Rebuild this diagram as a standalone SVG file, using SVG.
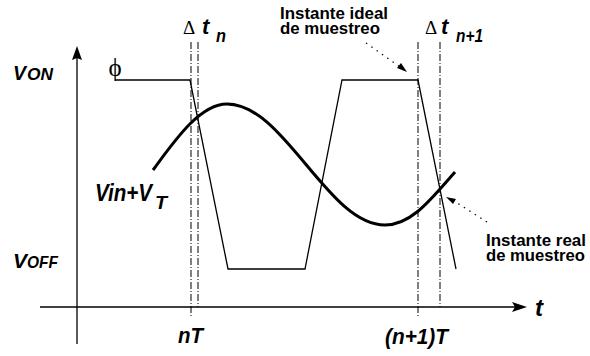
<svg xmlns="http://www.w3.org/2000/svg" width="590" height="356" viewBox="0 0 590 356">
<style>
.ax{stroke:#000;stroke-width:1.3;fill:none}
.clk{stroke:#000;stroke-width:1.3;fill:none}
.sig{stroke:#000;stroke-width:3;fill:none}
.dd{stroke:#000;stroke-width:1;fill:none;stroke-dasharray:7 2 1 2}
.dot{stroke:#000;stroke-width:1.2;fill:none;stroke-dasharray:1.5 5}
.lb{font-family:"Liberation Sans",Arial,sans-serif;font-weight:bold;font-style:italic;fill:#000}
.nt{font-family:"Liberation Sans",Arial,sans-serif;font-weight:bold;fill:#000;font-size:17px}
.sym{font-family:"Liberation Serif","DejaVu Serif",serif;fill:#000}
</style>
<g id="axes">
<line class="ax" x1="77" y1="56" x2="77" y2="344"/>
<path d="M77,46 L82,60 L77,58 L72,60 Z" fill="#000"/>
<line class="ax" x1="40" y1="307" x2="516" y2="307"/>
<path d="M527,307 L512,302 L515,307 L512,312 Z" fill="#000"/>
<text class="lb" x="535" y="316" font-size="24">t</text>
</g>
<g id="guides">
<line class="dd" x1="191" y1="42" x2="191" y2="317"/>
<line class="dd" x1="198" y1="42" x2="198" y2="307"/>
<line class="dd" x1="418" y1="42" x2="418" y2="317"/>
<line class="dd" x1="440" y1="42" x2="440" y2="307"/>
</g>
<g id="clock">
<polyline class="clk" points="115,80 190,80 228,269 305,269 342,80 418,80 456,269"/>
<text class="sym" x="115" y="76" font-size="25" text-anchor="middle">ϕ</text>
</g>
<g id="signal">
<path class="sig" d="M153,170 C175,140 200,104 227,104 C255.6,104 280.2,133.5 306,164.5 C331.8,195.5 356.4,225 385,225 C412,225 432,198 455,172"/>
</g>
<g id="labels">
<text class="lb" x="13" y="80" font-size="20" textLength="13" lengthAdjust="spacingAndGlyphs">V</text>
<text class="lb" x="27" y="80" font-size="16" textLength="26" lengthAdjust="spacingAndGlyphs">ON</text>
<text class="lb" x="13" y="268" font-size="21" textLength="14" lengthAdjust="spacingAndGlyphs">V</text>
<text class="lb" x="27" y="268" font-size="17" textLength="31" lengthAdjust="spacingAndGlyphs">OFF</text>
<text class="lb" x="95" y="201" font-size="23" textLength="57" lengthAdjust="spacingAndGlyphs">Vin+V</text>
<text class="lb" x="155" y="209" font-size="18" textLength="12" lengthAdjust="spacingAndGlyphs">T</text>
<text class="lb" x="178" y="343" font-size="22" textLength="25" lengthAdjust="spacingAndGlyphs">nT</text>
<text class="lb" x="385" y="344" font-size="22" textLength="63" lengthAdjust="spacingAndGlyphs">(n+1)T</text>
<text class="sym" x="183" y="34" font-size="19">Δ</text>
<text class="lb" x="202" y="34" font-size="22">t</text>
<text class="lb" x="216" y="42" font-size="18" textLength="10" lengthAdjust="spacingAndGlyphs">n</text>
<text class="sym" x="425" y="34" font-size="19">Δ</text>
<text class="lb" x="441" y="34" font-size="22">t</text>
<text class="lb" x="456" y="42" font-size="18" textLength="27" lengthAdjust="spacingAndGlyphs">n+1</text>
</g>
<g id="note-ideal">
<text class="nt" x="280" y="19" textLength="108" lengthAdjust="spacingAndGlyphs">Instante ideal</text>
<text class="nt" x="280" y="34" textLength="100" lengthAdjust="spacingAndGlyphs">de muestreo</text>
<line class="dot" x1="366" y1="43" x2="400" y2="67"/>
<path d="M407,72 L397,68 L401,63 Z" fill="#000"/>
</g>
<g id="note-real">
<text class="nt" x="486" y="246" textLength="100" lengthAdjust="spacingAndGlyphs">Instante real</text>
<text class="nt" x="486" y="261" textLength="99" lengthAdjust="spacingAndGlyphs">de muestreo</text>
<line class="dot" x1="487" y1="222" x2="454" y2="201"/>
<path d="M446,197 L456,199 L453,204 Z" fill="#000"/>
</g>
</svg>
